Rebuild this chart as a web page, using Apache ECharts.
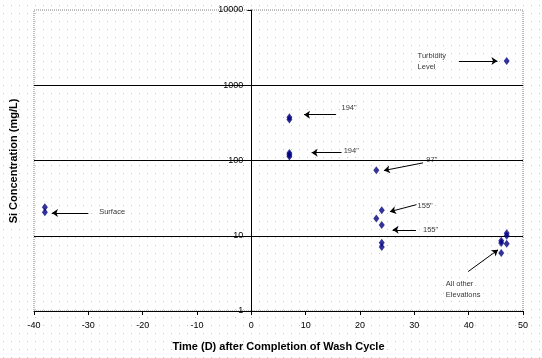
<!DOCTYPE html>
<html>
<head>
<meta charset="utf-8">
<script src="https://cdn.jsdelivr.net/npm/echarts@6/dist/echarts.min.js"></script>
<style>
html,body{margin:0;padding:0;background-color:#fff;}
body{
  background-image:url("data:image/svg+xml,%3Csvg xmlns='http://www.w3.org/2000/svg' width='8' height='8'%3E%3Crect x='0' y='0' width='1' height='1' fill='%23c4c4c4'/%3E%3C/svg%3E");
  background-position:3px 5px;
}
#chart{width:542px;height:358px;}
</style>
</head>
<body>
<div id="chart"></div>
<script>
// Measured data: time (days after completion of wash cycle) and Si concentration (mg/L)
var timeDays = [-38, -38, 7, 7, 7, 7, 7, 23, 24, 23, 24, 24, 24, 47, 47, 47, 46, 46, 47, 46];
var siConc   = [24, 20.5, 375, 350, 126, 119, 113, 74, 21.8, 16.9, 13.9, 8.1, 7.1, 2100, 10.8, 10.0, 8.6, 8.0, 7.8, 5.9];

// Y axis ticks (log scale)
var yTicks = [1, 10, 100, 1000, 10000];
var xTicks = [-40, -30, -20, -10, 0, 10, 20, 30, 40, 50];

// Annotation texts (anchored in data space)
var noteText = ['Turbidity\nLevel', '194"', '194"', '97"', 'Surface', '155"', '155"', 'All other\nElevations'];
var noteX    = [30.6, 16.6, 17.0, 32.2, -28.0, 30.6, 31.6, 35.8];
var noteY    = [2100, 505, 136, 102, 20.9, 25.1, 12.0, 1.92];

// Annotation arrows: from (x1,y1) to (x2,y2), head at the second point
var arrowX1 = [38.2, 15.6, 16.6, 31.6, -30.0, 30.4, 30.3, 39.9];
var arrowY1 = [2100, 406, 127, 93, 20.1, 25.9, 12.0, 3.34];
var arrowX2 = [45.3, 9.7, 11.1, 24.4, -36.7, 25.5, 26.0, 45.4];
var arrowY2 = [2100, 406, 127, 73.6, 20.1, 20.9, 12.0, 6.5];

var FONT = "'Liberation Sans', Arial, sans-serif";

var GRID_LEFT = 34, GRID_WIDTH = 489;
var xMin = xTicks[0], xMax = xTicks[xTicks.length - 1];
// shift the y axis so it sits at x = 0 of the x scale
var yAxisOffset = -((0 - xMin) / (xMax - xMin)) * GRID_WIDTH;

var points = timeDays.map(function (t, i) { return [t, siConc[i]]; });
var notes = noteText.map(function (s, i) { return [noteX[i], noteY[i], s]; });
var arrows = arrowX1.map(function (x, i) {
  return [{ coord: [x, arrowY1[i]] }, { coord: [arrowX2[i], arrowY2[i]] }];
});

var chart = echarts.init(document.getElementById('chart'), null, { renderer: 'canvas' });
chart.setOption({
  animation: false,
  backgroundColor: 'transparent',
  grid: {
    left: GRID_LEFT, width: GRID_WIDTH, top: 10, height: 301,
    show: true, borderColor: '#808080', borderWidth: 1, borderType: 'dotted',
    backgroundColor: 'transparent'
  },
  xAxis: {
    type: 'value',
    min: xMin, max: xMax, interval: 10,
    axisLine: { onZero: false, lineStyle: { color: '#000', width: 1 } },
    axisTick: { show: true, length: 4, lineStyle: { color: '#000' } },
    axisLabel: { color: '#000', fontSize: 9, fontFamily: FONT, margin: 10 },
    splitLine: { show: false },
    name: 'Time (D) after Completion of Wash Cycle',
    nameLocation: 'middle', nameGap: 30,
    nameTextStyle: { color: '#000', fontSize: 11, fontWeight: 'bold', fontFamily: FONT }
  },
  yAxis: {
    type: 'log', logBase: 10,
    min: yTicks[0], max: yTicks[yTicks.length - 1],
    offset: yAxisOffset,
    axisLine: { show: true, onZero: false, lineStyle: { color: '#000', width: 1 } },
    axisTick: { show: true, length: 4, lineStyle: { color: '#000' } },
    minorTick: { show: false },
    axisLabel: {
      color: '#000', fontSize: 9, fontFamily: FONT, margin: 8,
      formatter: function (v) { return String(Math.round(v)); }
    },
    splitLine: { show: true, showMaxLine: false, lineStyle: { color: '#000', width: 1 } }
  },
  graphic: [{
    type: 'text', x: 14, y: 161, rotation: Math.PI / 2,
    style: {
      text: 'Si Concentration (mg/L)', fill: '#000',
      font: 'bold 11px ' + FONT, textAlign: 'center', textVerticalAlign: 'middle'
    },
    silent: true
  }],
  series: [{
    type: 'scatter',
    data: points,
    symbol: 'diamond',
    symbolSize: [6, 8],
    itemStyle: { color: '#000080' },
    silent: true,
    z: 5
  }, {
    type: 'scatter',
    data: notes,
    symbolSize: 0,
    silent: true,
    label: {
      show: true, position: 'right', distance: 0,
      formatter: function (p) { return p.value[2]; },
      color: '#000', fontSize: 7.5, fontFamily: FONT, lineHeight: 11,
      align: 'left', verticalAlign: 'middle'
    },
    markLine: {
      silent: true,
      symbol: ['none', 'arrow'],
      symbolSize: 6,
      label: { show: false },
      lineStyle: { color: '#000', width: 1, type: 'solid' },
      emphasis: { disabled: true },
      data: arrows
    }
  }]
});
</script>
</body>
</html>
